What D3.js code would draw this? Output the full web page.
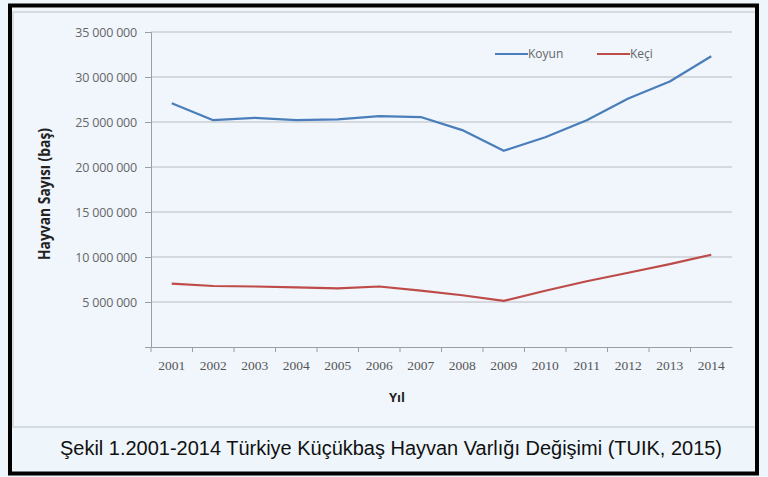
<!DOCTYPE html>
<html lang="tr">
<head>
<meta charset="UTF-8">
<title>Küçükbaş Hayvan Varlığı</title>
<script src="https://d3js.org/d3.v7.min.js"></script>
<style>
  body { margin: 0; background: #eef5fb; }
</style>
</head>
<body>
<script>
// data
const years = ["2001","2002","2003","2004","2005","2006","2007","2008","2009","2010","2011","2012","2013","2014"];
const koyun = [27080000, 25200000, 25450000, 25200000, 25300000, 25650000, 25550000, 24100000, 21800000, 23300000, 25200000, 27600000, 29500000, 32300000];
const keci  = [7050000, 6780000, 6720000, 6630000, 6520000, 6720000, 6260000, 5750000, 5120000, 6250000, 7300000, 8250000, 9200000, 10250000];
const yTicks = [5000000, 10000000, 15000000, 20000000, 25000000, 30000000, 35000000];
const seriesNames = ["Koyun", "Keçi"];
const seriesColors = ["#4a7ebb", "#be4b48"];

const width = 768, height = 477;
const svg = d3.select("body").append("svg")
    .attr("width", width)
    .attr("height", height);

// frame
svg.append("rect").attr("x", 0).attr("y", 0).attr("width", width).attr("height", height).attr("fill", "#eef5fb");
svg.append("rect").attr("x", 13).attr("y", 12).attr("width", 743).attr("height", 415)
    .attr("fill", "#f0f6fc").attr("stroke", "#cfd4d9").attr("stroke-width", 1.5);
svg.append("rect").attr("x", 10).attr("y", 5.5).attr("width", 747).attr("height", 468)
    .attr("fill", "none").attr("stroke", "#000").attr("stroke-width", 4);

const x = d3.scaleBand().domain(years).range([151, 732]);
const y = d3.scaleLinear().domain([0, 35000000]).range([347, 32]);

const g = svg.append("g");

// gridlines
g.selectAll("line.grid")
  .data(yTicks)
  .join("line")
  .attr("class", "grid")
  .attr("x1", 151).attr("x2", 732)
  .attr("y1", d => y(d)).attr("y2", d => y(d))
  .attr("stroke", "#b9bcbf").attr("stroke-width", 1);

// y axis
const fmt = d => d3.format(",")(d).replace(/,/g, " ");
const yAxis = g.append("g")
  .attr("transform", "translate(151,0)")
  .call(d3.axisLeft(y).tickValues(yTicks).tickSize(6).tickFormat(fmt));
yAxis.select(".domain").attr("stroke", "#9a9ea3");
yAxis.selectAll(".tick line").attr("stroke", "#9a9ea3");
yAxis.selectAll("text")
  .attr("x", -14)
  .attr("fill", "#666")
  .attr("font-family", "'Open Sans', 'Liberation Sans', sans-serif")
  .attr("font-size", 12.5)
  .attr("letter-spacing", -0.2);

// x axis, ticks on category boundaries
const xAxis = g.append("g")
  .attr("transform", "translate(0,347)")
  .call(d3.axisBottom(x).tickSize(0).tickSizeOuter(0));
xAxis.select(".domain").attr("stroke", "#9a9ea3");
xAxis.selectAll("text")
  .attr("dy", "1.5em")
  .attr("fill", "#555")
  .attr("font-family", "'Liberation Serif', serif")
  .attr("font-size", 13.5);
g.selectAll("line.xtick")
  .data(years)
  .join("line")
  .attr("class", "xtick")
  .attr("x1", d => x(d)).attr("x2", d => x(d))
  .attr("y1", 347).attr("y2", 352)
  .attr("stroke", "#9a9ea3");

// lines
const line = d3.line()
  .x((d, i) => x(years[i]) + x.bandwidth() / 2)
  .y(d => y(d));
[koyun, keci].forEach((vals, i) => {
  g.append("path")
    .datum(vals)
    .attr("fill", "none")
    .attr("stroke", seriesColors[i])
    .attr("stroke-width", 2.2)
    .attr("stroke-linejoin", "round")
    .attr("d", line);
});

// legend
const legendX = [495, 597];
const legend = svg.selectAll("g.legend")
  .data(seriesNames)
  .join("g")
  .attr("class", "legend")
  .attr("transform", (d, i) => `translate(${legendX[i]},54)`);
legend.append("line")
  .attr("x1", 0).attr("x2", 33)
  .attr("stroke", (d, i) => seriesColors[i]).attr("stroke-width", 2.2);
legend.append("text")
  .attr("x", 33).attr("dy", "0.35em")
  .attr("fill", "#666")
  .attr("font-family", "'Open Sans', 'Liberation Sans', sans-serif")
  .attr("font-size", 12)
  .text(d => d);

// axis titles
svg.append("text")
  .attr("transform", "translate(50,194) rotate(-90)")
  .attr("text-anchor", "middle")
  .attr("textLength", 132)
  .attr("lengthAdjust", "spacingAndGlyphs")
  .attr("font-family", "'Open Sans', 'Liberation Sans', sans-serif")
  .attr("font-weight", "bold")
  .attr("font-size", 16)
  .attr("fill", "#222")
  .text("Hayvan Sayısı (baş)");
svg.append("text")
  .attr("x", 397).attr("y", 402)
  .attr("text-anchor", "middle")
  .attr("font-family", "'Open Sans', 'Liberation Sans', sans-serif")
  .attr("font-weight", "bold")
  .attr("font-size", 13)
  .attr("fill", "#222")
  .text("Yıl");

// caption
svg.append("text")
  .attr("x", 60).attr("y", 455)
  .attr("textLength", 662)
  .attr("lengthAdjust", "spacingAndGlyphs")
  .attr("font-family", "'Liberation Sans Narrow', 'Liberation Sans', sans-serif")
  .attr("font-size", 20)
  .attr("fill", "#111")
  .text("Şekil 1.2001-2014 Türkiye Küçükbaş Hayvan Varlığı Değişimi (TUIK, 2015)");
</script>
</body>
</html>
